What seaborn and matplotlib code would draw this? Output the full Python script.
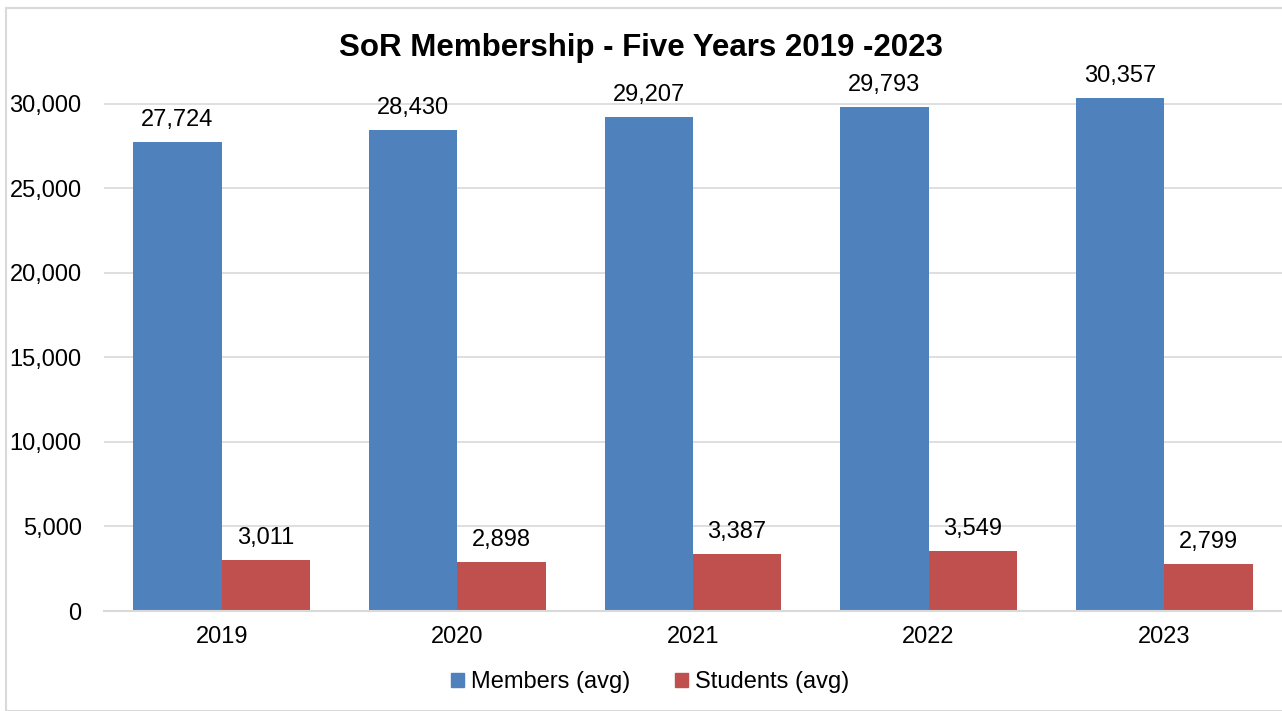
import pandas as pd
import matplotlib.pyplot as plt
import seaborn as sns
from matplotlib.patches import Rectangle

# Chart data
years = ['2019', '2020', '2021', '2022', '2023']
members = [27724, 28430, 29207, 29793, 30357]
students = [3011, 2898, 3387, 3549, 2799]
series = ['Members (avg)', 'Students (avg)']
colors = ['#4F81BD', '#C0504D']

df = pd.DataFrame({
    'year': years * 2,
    'value': members + students,
    'series': [series[0]] * len(years) + [series[1]] * len(years),
})

sns.set_style('white')
plt.rcParams['font.family'] = ['Liberation Sans', 'DejaVu Sans']
plt.rcParams['text.color'] = 'black'
plt.rcParams['xtick.color'] = 'black'
plt.rcParams['ytick.color'] = 'black'
plt.rcParams['xtick.labelcolor'] = 'black'
plt.rcParams['ytick.labelcolor'] = 'black'

fig = plt.figure(figsize=(12.82, 7.11), dpi=100)
ax = fig.add_axes([0.081, 0.1406, 0.919, 0.761])

sns.barplot(data=df, x='year', y='value', hue='series', palette=colors,
            width=0.75, gap=0, saturation=1, linewidth=0, ax=ax, legend=False)

for c in ax.containers:
    ax.bar_label(c, labels=[f'{v:,.0f}' for v in c.datavalues],
                 padding=8, fontsize=17, color='black', clip_on=False)

ax.set_ylim(0, 32000)
ax.set_xlim(-0.5, 4.5)
ax.set_yticks(range(0, 30001, 5000))
ax.set_yticklabels([f'{v:,}' for v in range(0, 30001, 5000)])
ax.yaxis.grid(True, color='#D9D9D9', linewidth=1.2)
ax.set_axisbelow(True)
ax.tick_params(axis='y', length=0, pad=16, labelsize=17)
ax.tick_params(axis='x', length=0, pad=11, labelsize=17)
ax.set_xlabel('')
ax.set_ylabel('')
for s in ['top', 'right', 'left']:
    ax.spines[s].set_visible(False)
ax.spines['bottom'].set_color('#D9D9D9')
ax.spines['bottom'].set_linewidth(1.5)

fig.text(0.5, 1 - 48 / 711, 'SoR Membership - Five Years 2019 -2023',
         ha='center', va='center', fontsize=22.5, fontweight='bold', color='black')

handles = [Rectangle((0, 0), 1, 1, color=c) for c in colors]
fig.legend(handles, series, loc='center', bbox_to_anchor=(650 / 1282, 1 - 682 / 711),
           ncol=2, frameon=False, fontsize=17, handlelength=0.55,
           handleheight=0.55, handletextpad=0.3, columnspacing=1.9)

# outer chart border
fig.patches.append(Rectangle((6 / 1282, 0), 1.5, 1 - 8 / 711, transform=fig.transFigure,
                             fill=False, edgecolor='#D9D9D9', linewidth=1.5))

fig.savefig('out.png', dpi=100)
